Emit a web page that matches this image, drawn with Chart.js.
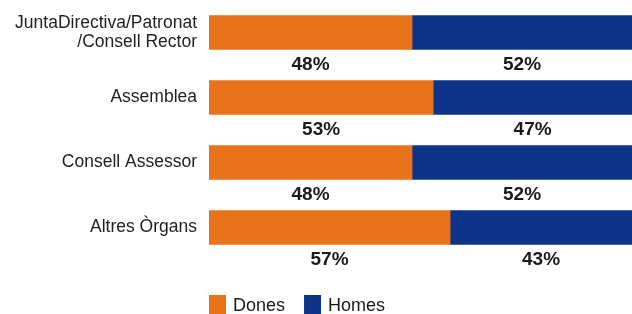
<!DOCTYPE html>
<html>
<head>
<meta charset="utf-8">
<script src="https://cdn.jsdelivr.net/npm/chart.js@4"></script>
<style>
  html, body { margin: 0; padding: 0; background: #fff; }
  #wrap { width: 632px; height: 314px; }
</style>
</head>
<body>
<div id="wrap"><canvas id="myChart" width="632" height="314"></canvas></div>
<script>
const ctx = document.getElementById("myChart");

let organs = [["JuntaDirectiva/Patronat", "/Consell Rector"], "Assemblea", "Consell Assessor", "Altres Òrgans"];
let dones = [48, 53, 48, 57];
let homes = [52, 47, 52, 43];
let seriesNames = ["Dones", "Homes"];
let seriesColors = ["#e8731a", "#0e348a"];

const FONT = '"Liberation Sans", Arial, sans-serif';

// percentages written under each bar segment
const pctLabels = {
  id: "pctLabels",
  afterDatasetsDraw(chart) {
    const c = chart.ctx;
    c.save();
    c.font = "bold 19px " + FONT;
    c.fillStyle = "#1a1a1a";
    c.textAlign = "center";
    c.textBaseline = "middle";
    chart.data.datasets.forEach((ds, i) => {
      chart.getDatasetMeta(i).data.forEach((bar, j) => {
        const p = bar.getProps(["x", "base", "y", "height"], true);
        c.fillText(ds.data[j] + "%", (p.x + p.base) / 2, p.y + p.height / 2 + 15);
      });
    });
    c.restore();
  },
};

// legend at bottom, lined up with the bars
const bottomLegend = {
  id: "bottomLegend",
  afterDraw(chart) {
    const c = chart.ctx;
    c.save();
    c.font = "18px " + FONT;
    c.textBaseline = "middle";
    let x = chart.chartArea.left;
    const y = 306;
    chart.data.datasets.forEach((ds) => {
      c.fillStyle = ds.backgroundColor;
      c.fillRect(x, y - 11, 17, 22);
      c.fillStyle = "#1a1a1a";
      c.fillText(ds.label, x + 24, y);
      x += 24 + c.measureText(ds.label).width + 19;
    });
    c.restore();
  },
};

new Chart(ctx, {
  type: "bar",
  data: {
    labels: organs,
    datasets: [
      { label: seriesNames[0], data: dones, backgroundColor: seriesColors[0], barThickness: 34 },
      { label: seriesNames[1], data: homes, backgroundColor: seriesColors[1], barThickness: 34 },
    ],
  },
  options: {
    indexAxis: "y",
    responsive: false,
    animation: false,
    layout: { padding: { top: 0, bottom: 54, left: 0, right: 0 } },
    plugins: {
      legend: { display: false },
      tooltip: { enabled: false },
    },
    scales: {
      x: {
        stacked: true,
        display: false,
        min: 0,
        max: 100,
      },
      y: {
        stacked: true,
        grid: { display: false, drawTicks: false },
        border: { display: false },
        ticks: {
          padding: 12,
          color: "#1f1f1f",
          font: { family: FONT, size: 17.5, lineHeight: 1.05 },
        },
        afterFit(scale) {
          scale.width = 209;
          scale.paddingTop = 0;
          scale.paddingBottom = 0;
        },
      },
    },
  },
  plugins: [pctLabels, bottomLegend],
});
</script>
</body>
</html>
